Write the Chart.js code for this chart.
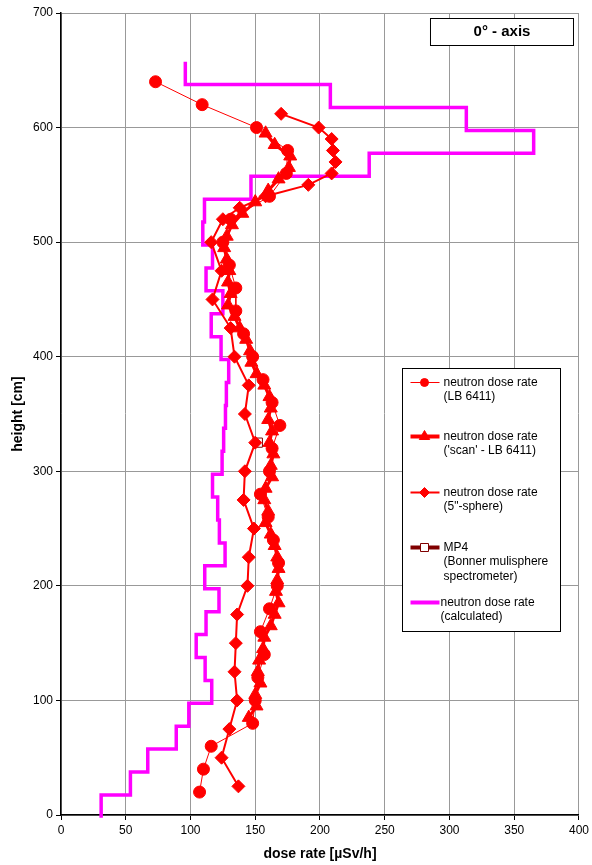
<!DOCTYPE html>
<html>
<head>
<meta charset="utf-8">
<script src="https://cdn.jsdelivr.net/npm/chart.js@4.4.1/dist/chart.umd.min.js"></script>
<style>
  html, body { margin: 0; padding: 0; background: #fff; }
</style>
</head>
<body>
<canvas id="doseChart" width="592" height="865"></canvas>
<script>
// --- 1. DATA ---
const xTicks = [0, 50, 100, 150, 200, 250, 300, 350, 400];
const yTicks = [0, 100, 200, 300, 400, 500, 600, 700];

// neutron dose rate (LB 6411)
const lbHeights = [640, 620, 600, 580, 560, 540, 520, 500, 480, 460, 440, 420, 400, 380, 360, 340,
                   320, 300, 280, 260, 240, 220, 200, 180, 160, 140, 120, 100, 80, 60, 40, 20];
const lbDose = [73, 109, 151, 175, 174, 161, 131, 125, 130, 135, 135, 141, 148, 156, 163, 169,
                163, 161, 154, 160, 164, 168, 167, 161, 154, 157, 152, 150, 148, 116, 110, 107];

// neutron dose rate ('scan' - LB 6411)
const scanHeights = [595, 585, 575, 565, 555, 545, 535, 525, 515, 505, 495, 485, 475, 465, 455, 445,
                     435, 425, 415, 405, 395, 385, 375, 365, 355, 345, 335, 325, 315, 305, 295, 285,
                     275, 265, 255, 245, 235, 225, 215, 205, 195, 185, 175, 165, 155, 145, 135, 125,
                     115, 105, 95, 85];
const scanDose = [158, 165, 177, 176, 168, 160, 150, 140, 132, 128, 126, 128, 130, 129, 131, 129,
                  134, 138, 143, 146, 147, 151, 157, 161, 162, 160, 163, 161, 164, 162, 163, 158,
                  157, 160, 158, 162, 165, 167, 168, 167, 166, 168, 165, 162, 157, 156, 153, 152,
                  154, 150, 151, 145];

// neutron dose rate (5"-sphere)
const sphereHeights = [612, 600, 590, 580, 570, 560, 550, 540, 530, 520, 500, 475, 450, 425, 400,
                       375, 350, 325, 300, 275, 250, 225, 200, 175, 150, 125, 100, 75, 50, 25];
const sphereDose = [170, 199, 209, 210, 212, 209, 191, 158, 138, 125, 116, 124, 117, 131, 134,
                    145, 142, 150, 142, 141, 149, 145, 144, 136, 135, 134, 136, 130, 124, 137];

// MP4 (Bonner multisphere spectrometer)
const mp4Heights = [325];
const mp4Dose = [152];

// neutron dose rate (calculated) - step histogram: bin edges and bin values
const calcEdges = [-2.5, 17.5, 37.5, 57.5, 77.5, 97.5, 117.5, 137.5, 157.5, 177.5, 197.5, 217.5,
                   237.5, 257.5, 277.5, 297.5, 317.5, 337.5, 357.5, 377.5, 397.5, 417.5, 437.5,
                   457.5, 477.5, 497.5, 517.5, 537.5, 557.5, 577.5, 597.5, 617.5, 637.5, 657.5];
const calcDose = [31, 53.6, 67, 89, 98.7, 116.4, 111.3, 104.4, 112, 122, 111, 126.7, 122.3, 121,
                  117, 124.4, 125.6, 127, 127.7, 129.5, 123.6, 116, 125, 112, 117, 109.5, 110.8,
                  146.7, 238, 365, 313, 208, 96];

const legendLabels = [
  ['neutron dose rate', '(LB 6411)'],
  ['neutron dose rate', "('scan' - LB 6411)"],
  ['neutron dose rate', '(5"-sphere)'],
  ['MP4', '(Bonner mulisphere', 'spectrometer)'],
  ['neutron dose rate', '(calculated)']
];
const chartLabel = '0° - axis';

const pts = (hs, vs) => hs.map((h, i) => ({ x: vs[i], y: h }));
// each bin starts at its lower edge; repeat the last value at the top edge
const calcPoints = calcEdges.map((h, i) => ({ x: calcDose[Math.min(i, calcDose.length - 1)], y: h }));

const FONT = '"Liberation Sans", Arial, sans-serif';

// --- 2. LEGEND + LABEL BOX PLUGIN ---
function drawMarker(ctx, style, x, y, r, fill, stroke) {
  ctx.beginPath();
  if (style === 'circle') {
    ctx.arc(x, y, r, 0, Math.PI * 2);
  } else if (style === 'triangle') {
    ctx.moveTo(x, y - r);
    ctx.lineTo(x + r * 0.866, y + r * 0.5);
    ctx.lineTo(x - r * 0.866, y + r * 0.5);
    ctx.closePath();
  } else if (style === 'rectRot') {
    ctx.moveTo(x - r, y); ctx.lineTo(x, y - r); ctx.lineTo(x + r, y); ctx.lineTo(x, y + r);
    ctx.closePath();
  } else if (style === 'rect') {
    ctx.rect(x - r, y - r, 2 * r, 2 * r);
  }
  if (fill) { ctx.fillStyle = fill; ctx.fill(); }
  if (stroke) { ctx.strokeStyle = stroke; ctx.lineWidth = 1; ctx.stroke(); }
}

const boxPlugin = {
  id: 'boxes',
  afterDraw(chart) {
    const { ctx, chartArea } = chart;
    ctx.save();

    // label box top-right
    const tx = chartArea.right - 149, ty = chartArea.top + 5;
    ctx.fillStyle = '#fff';
    ctx.fillRect(tx, ty, 144, 28);
    ctx.strokeStyle = '#000'; ctx.lineWidth = 1;
    ctx.strokeRect(tx + 0.5, ty + 0.5, 143, 27);
    ctx.fillStyle = '#000';
    ctx.font = 'bold 15px ' + FONT;
    ctx.textAlign = 'center'; ctx.textBaseline = 'middle';
    ctx.fillText(chartLabel, tx + 72, ty + 14);

    // legend box
    const lx = 402.5, ly = 368.5, lw = 158, lh = 263;
    ctx.fillStyle = '#fff';
    ctx.fillRect(lx, ly, lw, lh);
    ctx.strokeStyle = '#000';
    ctx.strokeRect(lx, ly, lw, lh);

    const rowY = [14, 68, 124, 179, 234];
    const markers = [
      { style: 'circle', r: 4, fill: '#ff0000', stroke: '#ff0000' },
      { style: 'triangle', r: 6, fill: '#ff0000', stroke: '#ff0000' },
      { style: 'rectRot', r: 5, fill: '#ff0000', stroke: '#ff0000' },
      { style: 'rect', r: 4, fill: '#fff', stroke: '#800000' },
      null
    ];
    const lineColors = ['#ff0000', '#ff0000', '#ff0000', '#800000', '#ff00ff'];
    const lineWidths = [1, 4, 2, 4, 4];
    ctx.font = '12px ' + FONT;
    ctx.textAlign = 'left'; ctx.textBaseline = 'middle';
    legendLabels.forEach((lines, i) => {
      const y = ly + rowY[i];
      ctx.strokeStyle = lineColors[i];
      ctx.lineWidth = lineWidths[i];
      ctx.beginPath();
      ctx.moveTo(lx + 8, y); ctx.lineTo(lx + 37, y);
      ctx.stroke();
      const m = markers[i];
      if (m) drawMarker(ctx, m.style, lx + 22, y, m.r, m.fill, m.stroke);
      ctx.fillStyle = '#000';
      const textX = i === 4 ? lx + 38 : lx + 41;
      lines.forEach((t, j) => ctx.fillText(t, textX, y + j * 14.5));
    });
    ctx.restore();
  }
};

// --- 3. CHART ---
const ctx = document.getElementById('doseChart').getContext('2d');
const doseChart = new Chart(ctx, {
  type: 'scatter',
  data: {
    datasets: [
      {
        label: 'neutron dose rate (LB 6411)',
        data: pts(lbHeights, lbDose),
        showLine: true,
        borderColor: '#ff0000', backgroundColor: '#ff0000', borderWidth: 1,
        pointStyle: 'circle', pointRadius: 6, pointBorderWidth: 1
      },
      {
        label: "neutron dose rate ('scan' - LB 6411)",
        data: pts(scanHeights, scanDose),
        showLine: true,
        borderColor: '#ff0000', backgroundColor: '#ff0000', borderWidth: 3,
        pointStyle: 'triangle', pointRadius: 7.5, pointBorderWidth: 1
      },
      {
        label: 'neutron dose rate (5"-sphere)',
        data: pts(sphereHeights, sphereDose),
        showLine: true,
        borderColor: '#ff0000', backgroundColor: '#ff0000', borderWidth: 2,
        pointStyle: 'rectRot', pointRadius: 6.5, pointBorderWidth: 1
      },
      {
        label: 'MP4',
        data: pts(mp4Heights, mp4Dose),
        showLine: false,
        borderColor: '#800000', backgroundColor: 'rgba(0,0,0,0)',
        pointStyle: 'rect', pointRadius: 6.5, pointBorderWidth: 1
      },
      {
        label: 'neutron dose rate (calculated)',
        data: calcPoints,
        showLine: true, stepped: 'after',
        borderColor: '#ff00ff', backgroundColor: '#ff00ff', borderWidth: 3.5,
        pointRadius: 0, clip: 6
      }
    ]
  },
  options: {
    responsive: false,
    animation: false,
    events: [],
    layout: { padding: { top: 13, right: 9, left: 0, bottom: 0 } },
    plugins: { legend: { display: false }, tooltip: { enabled: false } },
    scales: {
      x: {
        type: 'linear', min: 0, max: 400,
        afterBuildTicks: s => { s.ticks = xTicks.map(v => ({ value: v })); },
        afterFit: s => { s.height = 50; },
        ticks: { color: '#000', font: { family: FONT, size: 12 }, padding: 3, maxRotation: 0 },
        grid: { color: '#999', tickColor: '#000', tickLength: 5, lineWidth: 1 },
        border: { color: '#000', width: 1.5 },
        title: { display: true, text: 'dose rate [µSv/h]', color: '#000',
                 font: { family: FONT, size: 14, weight: 'bold' }, padding: { top: 0, bottom: 2 } }
      },
      y: {
        type: 'linear', min: 0, max: 700,
        afterBuildTicks: s => { s.ticks = yTicks.map(v => ({ value: v })); },
        afterFit: s => { s.width = 61; },
        ticks: { color: '#000', font: { family: FONT, size: 12 }, padding: 3 },
        grid: { color: '#999', tickColor: '#000', tickLength: 5, lineWidth: 1 },
        border: { color: '#000', width: 1.5 },
        title: { display: true, text: 'height [cm]', color: '#000',
                 font: { family: FONT, size: 14, weight: 'bold' }, padding: { top: 10, bottom: 0 } }
      }
    }
  },
  plugins: [boxPlugin]
});
</script>
</body>
</html>
